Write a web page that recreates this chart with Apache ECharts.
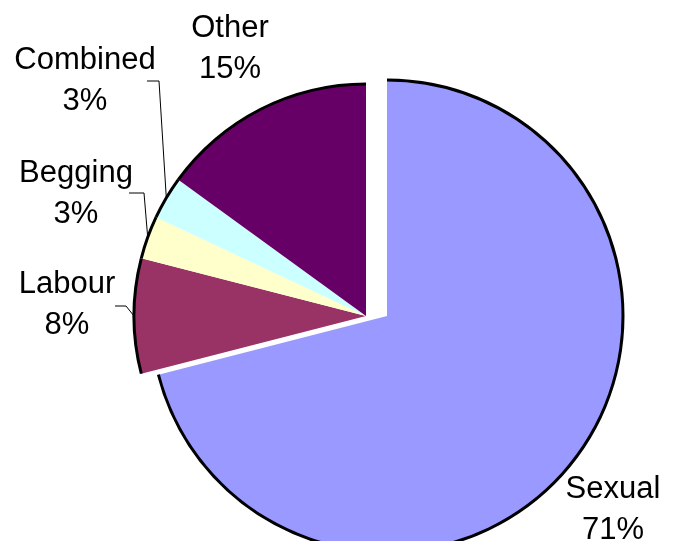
<!DOCTYPE html>
<html>
<head>
<meta charset="utf-8">
<script src="https://cdn.jsdelivr.net/npm/echarts@6/dist/echarts.min.js"></script>
<style>
  html, body { margin: 0; padding: 0; background: #fff; }
  #chart { width: 679px; height: 541px; }
</style>
</head>
<body>
<div id="chart"></div>
<script>
var categories = ['Sexual', 'Labour', 'Begging', 'Combined', 'Other'];
var shares = [71, 8, 3, 3, 15];
var colors = ['#9999FF', '#993366', '#FFFFCC', '#CCFFFF', '#660066'];

// the Sexual slice is pulled out to the right, the rest stays put
var pulled = 'Sexual';
var restCenter = [366, 316], restR = 232;
var pullCenter = [387, 316], pullR = 236;

// label block centres + leader line bends (first point comes from the pie edge)
var labelPos = {
  Other:    { x: 230, y: 49 },
  Combined: { x: 85,  y: 81,  line: [[159, 81], [147, 81]] },
  Begging:  { x: 76,  y: 194, line: [[144, 193], [129, 193]] },
  Labour:   { x: 67,  y: 305, line: [[126, 306], [115, 306]] },
  Sexual:   { x: 613, y: 510 }
};

var NONE = 'rgba(0,0,0,0)';

function makeData(showPulled, ring) {
  return categories.map(function (name, i) {
    var visible = (name === pulled) === showPulled;
    var item = {
      name: name,
      value: shares[i],
      itemStyle: { color: visible ? (ring ? '#000' : colors[i]) : NONE }
    };
    if (!visible || ring) {
      item.label = { show: false };
      item.labelLine = { show: false };
    } else {
      item.labelLine = { show: !!labelPos[name].line };
    }
    return item;
  });
}

function placeLabel(params) {
  var p = labelPos[categories[params.dataIndex]];
  if (!p) return;
  var out = { x: p.x, y: p.y, align: 'center', verticalAlign: 'middle' };
  if (p.line && params.labelLinePoints) {
    out.labelLinePoints = [params.labelLinePoints[0]].concat(p.line);
  }
  return out;
}

function fillSeries(center, r, showPulled) {
  return {
    type: 'pie',
    center: center,
    radius: [0, r],
    startAngle: 90,
    clockwise: true,
    avoidLabelOverlap: false,
    silent: true,
    itemStyle: { borderWidth: 0 },
    label: {
      show: true,
      position: 'outside',
      formatter: '{b}\n{c}%',
      fontFamily: 'Liberation Sans, Arial, sans-serif',
      fontSize: 31,
      lineHeight: 41,
      color: '#000'
    },
    labelLine: { length: 5, length2: 5, lineStyle: { color: '#000', width: 1 } },
    labelLayout: placeLabel,
    emphasis: { disabled: true },
    data: makeData(showPulled, false)
  };
}

function ringSeries(center, r, showPulled) {
  return {
    type: 'pie',
    center: center,
    radius: [r - 1.5, r + 1.5],
    startAngle: 90,
    clockwise: true,
    silent: true,
    itemStyle: { borderWidth: 0 },
    label: { show: false },
    labelLine: { show: false },
    emphasis: { disabled: true },
    data: makeData(showPulled, true)
  };
}

var myChart = echarts.init(document.getElementById('chart'));
myChart.setOption({
  animation: false,
  backgroundColor: '#fff',
  series: [
    fillSeries(restCenter, restR, false),
    ringSeries(restCenter, restR, false),
    fillSeries(pullCenter, pullR, true),
    ringSeries(pullCenter, pullR, true)
  ]
});
</script>
</body>
</html>
